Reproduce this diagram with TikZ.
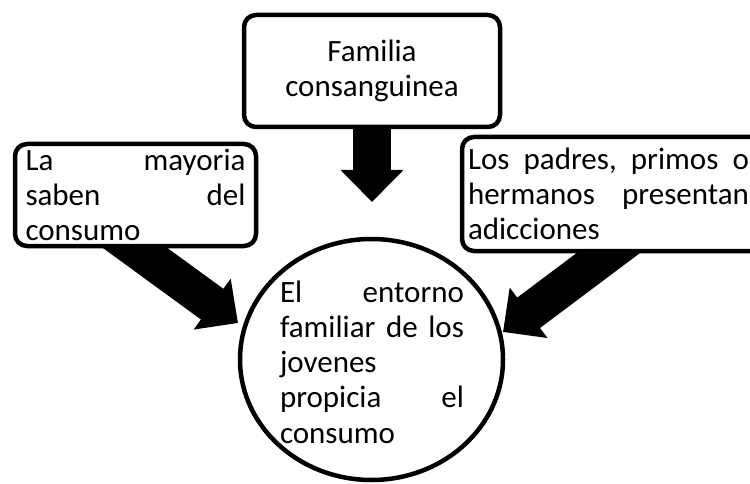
\documentclass[tikz,border=0pt]{standalone}
\usepackage{fontspec}
\setmainfont{Carlito}
\usetikzlibrary{arrows.meta,shapes.geometric,calc}
\pgfdeclarelayer{bg}
\pgfsetlayers{bg,main}
\newcommand{\jline}[2]{\leavevmode\hbox to #1{#2}}
\begin{document}
\begin{tikzpicture}[x=1pt,y=-1pt,
  box/.style={draw, line width=4.5pt, rounded corners=12pt, fill=white, inner sep=0pt},
  txt/.style={font=\fontsize{31}{35.3}\selectfont},
  bigarrow/.style={line width=38pt, -{Triangle[width=61pt,length=32pt]}}]
\useasboundingbox (0,0) rectangle (750,484);
% boxes
\node[box, txt, minimum width=256pt, minimum height=112pt, align=center] (top) at (372,71)
  {Familia\\consanguinea};
\node[box, txt, minimum width=241pt, minimum height=102pt, align=left, text width=220pt] (lbox) at (135.5,195)
  {\jline{220pt}{La\hfill mayoria}\\\jline{220pt}{saben\hfill del}\\consumo};
\node[box, txt, minimum width=310pt, minimum height=114pt, align=left, text width=298pt] (rbox) at (617,194)
  {\jline{281pt}{Los\hfill padres,\hfill primos\hfill o}\\\jline{281pt}{hermanos\hfill presentan}\\adicciones};
% ellipse
\node[draw, ellipse, line width=4.5pt, fill=white, minimum width=263pt, minimum height=241pt, inner sep=0pt] (circ) at (371.5,359.5) {};
\node[txt, align=left, text width=184pt, inner sep=0pt] (circtxt) at (372,362)
  {\jline{184pt}{El\hfill entorno}\\\jline{184pt}{familiar\hfill de\hfill los}\\jovenes\\\jline{184pt}{propicia\hfill el}\\consumo};
% arrow tips and bases
\coordinate (ttip) at (372,202);
\coordinate (ltip) at (238,323);
\coordinate (rtip) at (503,332);
\coordinate (rbase) at ($(rbox.south)+(-9,0)$);
\begin{pgfonlayer}{bg}
\draw[bigarrow] (top.center) -- (ttip);
\draw[bigarrow] ($(lbox.south)!-30pt!(ltip)$) -- (ltip);
\draw[bigarrow] ($(rbase)!-30pt!(rtip)$) -- (rtip);
\end{pgfonlayer}
\end{tikzpicture}
\end{document}
